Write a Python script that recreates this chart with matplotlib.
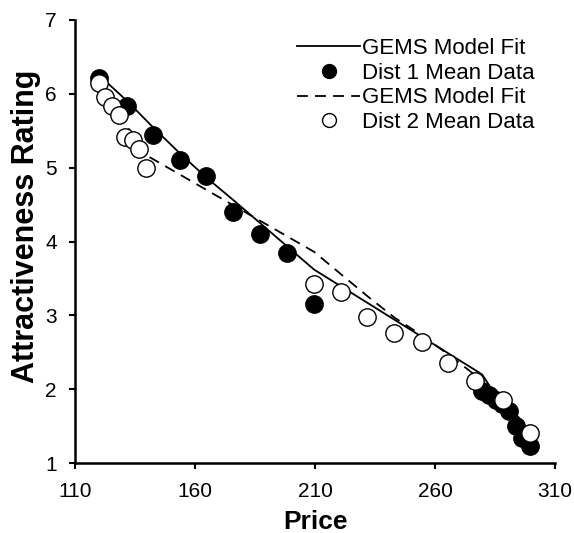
import matplotlib
matplotlib.use('Agg')
import matplotlib.pyplot as plt

plt.rcParams['font.family'] = ['Liberation Sans', 'DejaVu Sans']

# Dist 1 data and model fit
dist1_price = [120.1, 131.8, 142.4, 153.8, 164.6, 176.0, 187.1, 198.5, 209.6,
               279.6, 282.4, 285.2, 288.0, 290.8, 293.6, 296.4, 299.4]
dist1_mean = [6.22, 5.84, 5.44, 5.10, 4.89, 4.40, 4.10, 3.85, 3.15,
              1.97, 1.92, 1.85, 1.80, 1.70, 1.50, 1.34, 1.23]
dist1_fit = [6.25, 5.90, 5.55, 5.19, 4.87, 4.56, 4.25, 3.93, 3.62,
             2.20, 2.06, 1.93, 1.80, 1.67, 1.54, 1.41, 1.28]

# Dist 2 data and model fit
dist2_price = [120.1, 122.5, 125.3, 128.5, 130.8, 134.0, 136.7, 139.6,
               209.6, 220.7, 231.8, 243.1, 254.4, 265.6, 276.7, 288.2, 299.6]
dist2_mean = [6.14, 5.96, 5.83, 5.71, 5.41, 5.38, 5.25, 4.99,
              3.43, 3.31, 2.98, 2.76, 2.64, 2.35, 2.11, 1.85, 1.41]
dist2_fit = [6.15, 6.02, 5.88, 5.74, 5.60, 5.45, 5.31, 5.17,
             3.86, 3.56, 3.26, 2.97, 2.73, 2.47, 2.19, 1.85, 1.45]

fig = plt.figure(figsize=(5.74, 5.33), dpi=100)
ax = fig.add_axes([0.1307, 0.1313, 0.8363, 0.8312])

l1, = ax.plot(dist1_price, dist1_fit, color='black', lw=1.3, zorder=2)
l3, = ax.plot(dist2_price, dist2_fit, color='black', lw=1.3, ls=(0, (6, 4)), zorder=2)
p1, = ax.plot(dist1_price, dist1_mean, 'o', ms=12.5, mfc='black', mec='black', mew=1, zorder=3)
p2, = ax.plot(dist2_price, dist2_mean, 'o', ms=12.5, mfc='white', mec='black', mew=1, zorder=4)

ax.set_xlim(110, 310)
ax.set_ylim(1, 7)
ax.set_xticks([110, 160, 210, 260, 310])
ax.set_yticks([1, 2, 3, 4, 5, 6, 7])
ax.tick_params(direction='out', length=4, width=1.5, labelsize=15)
ax.tick_params(axis='x', pad=10)
ax.tick_params(axis='y', pad=9)
for s in ['top', 'right']:
    ax.spines[s].set_visible(False)
for s in ['left', 'bottom']:
    ax.spines[s].set_linewidth(1.8)

ax.set_xlabel('Price', fontsize=19, fontweight='bold', labelpad=6)
ax.set_ylabel('Attractiveness Rating', fontsize=22, fontweight='bold')
ax.yaxis.set_label_coords(-0.071, 0.535)

leg = ax.legend([l1, p1, l3, p2],
                ['GEMS Model Fit', 'Dist 1 Mean Data', 'GEMS Model Fit', 'Dist 2 Mean Data'],
                loc='upper right', bbox_to_anchor=(0.985, 0.99), frameon=False,
                fontsize=16, handlelength=2.8, handletextpad=0.1, labelspacing=0.17,
                markerscale=0.8, borderaxespad=0.2)

fig.savefig('out.png', dpi=100)
